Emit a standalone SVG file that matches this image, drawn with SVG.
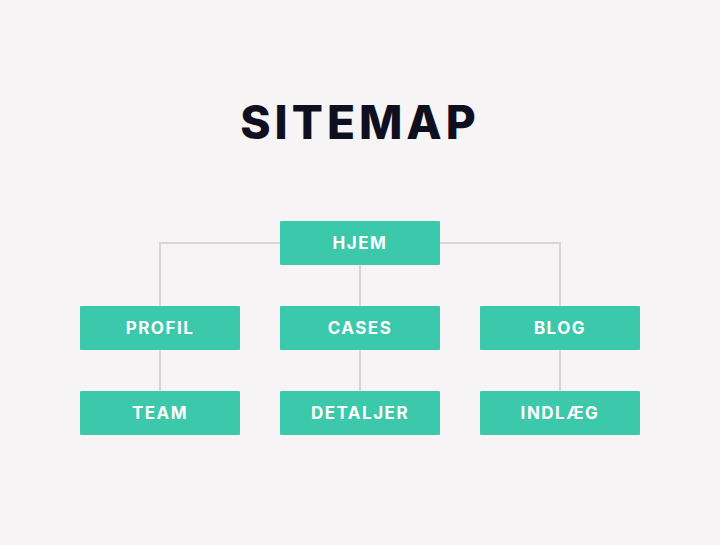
<svg xmlns="http://www.w3.org/2000/svg" width="720" height="545" viewBox="0 0 720 545">
<style>
.box{fill:#3cc8aa}
.lbl{font-family:Inter,"Liberation Sans",sans-serif;font-weight:700;font-size:17px;fill:#ffffff;letter-spacing:1.5px;text-anchor:middle;dominant-baseline:central}
.con{fill:none;stroke:#d6d6d8;stroke-width:2}
</style>
<rect width="720" height="545" fill="#f6f4f5"/>
<text x="360" y="122" font-family="Inter,'Liberation Sans',sans-serif" font-weight="800" font-size="46" letter-spacing="4" fill="#0e1020" text-anchor="middle" dominant-baseline="central">SITEMAP</text>
<g id="connectors">
<path class="con" d="M280 243 H160 V306"/>
<path class="con" d="M440 243 H560 V306"/>
<path class="con" d="M360 265 V306"/>
<path class="con" d="M160 350 V391"/>
<path class="con" d="M360 350 V391"/>
<path class="con" d="M560 350 V391"/>
</g>
<g id="hjem"><rect class="box" x="280" y="221" width="160" height="44" rx="1"/><text class="lbl" x="360" y="243">HJEM</text></g>
<g id="profil"><rect class="box" x="80" y="306" width="160" height="44" rx="1"/><text class="lbl" x="160" y="328">PROFIL</text></g>
<g id="cases"><rect class="box" x="280" y="306" width="160" height="44" rx="1"/><text class="lbl" x="360" y="328">CASES</text></g>
<g id="blog"><rect class="box" x="480" y="306" width="160" height="44" rx="1"/><text class="lbl" x="560" y="328">BLOG</text></g>
<g id="team"><rect class="box" x="80" y="391" width="160" height="44" rx="1"/><text class="lbl" x="160" y="413">TEAM</text></g>
<g id="detaljer"><rect class="box" x="280" y="391" width="160" height="44" rx="1"/><text class="lbl" x="360" y="413">DETALJER</text></g>
<g id="indlaeg"><rect class="box" x="480" y="391" width="160" height="44" rx="1"/><text class="lbl" x="560" y="413">INDLÆG</text></g>
</svg>
